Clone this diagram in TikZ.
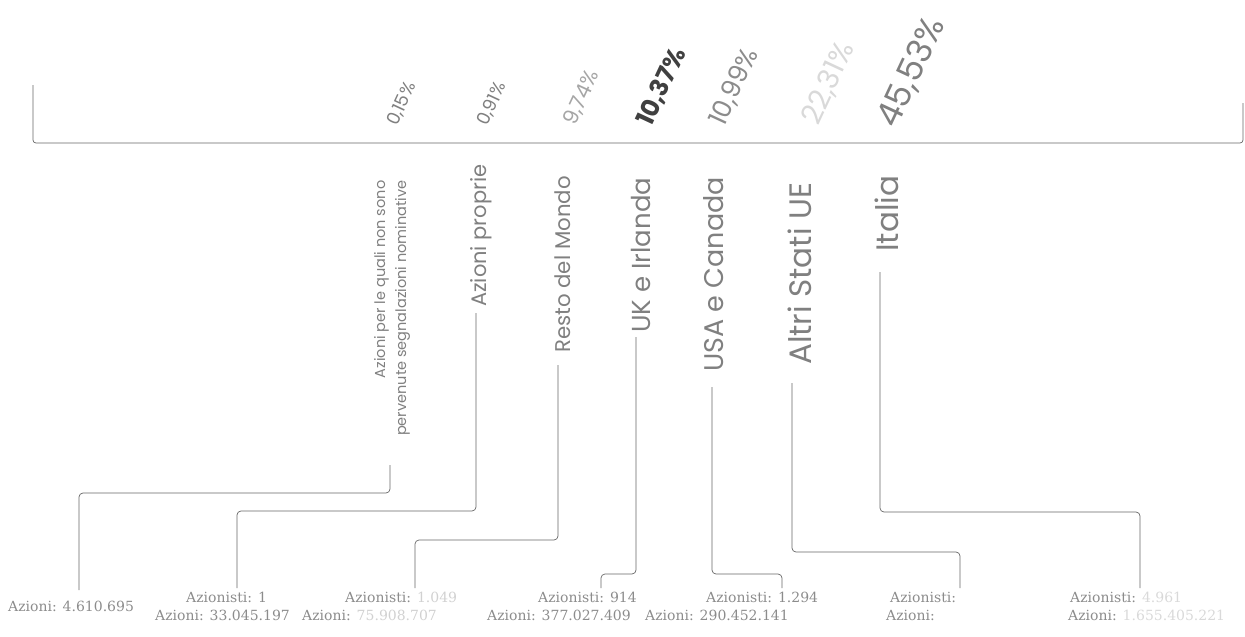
\documentclass[tikz,border=0pt]{standalone}
\usepackage{fontspec}
\newfontfamily\labfont{Poppins}
\newfontfamily\botfont{DejaVu Serif}
\begin{document}
\begin{tikzpicture}[x=1pt,y=-1pt,
  conn/.style={draw=black!60, line width=0.7pt, rounded corners=4pt},
  lab/.style={rotate=90, anchor=base west, inner sep=0pt, text=black!50, font=\labfont},
  pct/.style={rotate=65, anchor=base west, inner sep=0pt, text=black!50, font=\labfont},
  bot/.style={anchor=base west, inner sep=0pt, text=black!45, font=\botfont\fontsize{14}{16}\selectfont}]
\useasboundingbox (0,0) rectangle (1245,637);
% bracket
\coordinate (br1) at (33,85);
\coordinate (br2) at (33,143);
\coordinate (br3) at (1243,143);
\coordinate (br4) at (1243,103);
\draw[conn, rounded corners=3pt] (br1) -- (br2) -- (br3) -- (br4);
% percentages
\node[pct, font=\labfont\fontsize{18}{20}\selectfont] (p1) at (397,127) {0,15\%};
\node[pct, font=\labfont\fontsize{18}{20}\selectfont] (p2) at (487,127) {0,91\%};
\node[pct, text=black!35, font=\labfont\fontsize{21}{23}\selectfont] (p3) at (575,127) {9,74\%};
\node[pct, text=black!75, font=\labfont\bfseries\fontsize{25}{27}\selectfont] (p4) at (651,128) {10,37\%};
\node[pct, text=black!45, font=\labfont\fontsize{26}{28}\selectfont] (p5) at (724,128) {10,99\%};
\node[pct, text=black!15, font=\labfont\fontsize{29}{31}\selectfont] (p6) at (818,127) {22,31\%};
\node[pct, text=black!50, font=\labfont\fontsize{34}{36}\selectfont] (p7) at (896,130) {45,53\%};
% labels
\node[lab, align=right, font=\labfont\fontsize{14.5}{21}\selectfont] (l1) at (406,436)
  {Azioni per le quali non sono\\pervenute segnalazioni nominative};
\node[lab, font=\labfont\fontsize{21}{23}\selectfont] (l2) at (486,307) {Azioni proprie};
\node[lab, font=\labfont\fontsize{21.3}{23}\selectfont] (l3) at (570,353) {Resto del Mondo};
\node[lab, font=\labfont\fontsize{26}{28}\selectfont] (l4) at (650,333) {UK e Irlanda};
\node[lab, font=\labfont\fontsize{27}{29}\selectfont] (l5) at (723,372) {USA e Canada};
\node[lab, font=\labfont\fontsize{31}{33}\selectfont] (l6) at (811,365) {Altri Stati UE};
\node[lab, font=\labfont\fontsize{31}{33}\selectfont] (l7) at (898,252) {Italia};
% bottom texts
\node[bot] (b1) at (8,611) {Azioni: 4.610.695};
\node[bot] (b2a) at (186,602) {Azionisti: 1};
\node[bot] (b2b) at (155,620) {Azioni: 33.045.197};
\node[bot] (b3a) at (345,602) {Azionisti: \textcolor{black!18}{1.049}};
\node[bot] (b3b) at (302,620) {Azioni: \textcolor{black!18}{75.908.707}};
\node[bot] (b4a) at (538,602) {Azionisti: 914};
\node[bot] (b4b) at (487,620) {Azioni: 377.027.409};
\node[bot] (b5a) at (706,602) {Azionisti: 1.294};
\node[bot] (b5b) at (645,620) {Azioni: 290.452.141};
\node[bot] (b6a) at (890,602) {Azionisti:};
\node[bot] (b6b) at (886,620) {Azioni:};
\node[bot] (b7a) at (1070,602) {Azionisti: \textcolor{black!15}{4.961}};
\node[bot] (b7b) at (1068,620) {Azioni: \textcolor{black!15}{1.655.405.221}};
% connector coordinates
\coordinate (s1) at (390,465); \coordinate (k1) at (79,493);  \coordinate (e1) at (79,590);
\coordinate (s2) at (476,313); \coordinate (k2) at (237,511); \coordinate (e2) at (237,588);
\coordinate (s3) at (558,365); \coordinate (k3) at (415,540); \coordinate (e3) at (415,588);
\coordinate (s4) at (636,337); \coordinate (k4) at (601,574); \coordinate (e4) at (601,588);
\coordinate (s5) at (712,387); \coordinate (k5) at (782,574); \coordinate (e5) at (782,588);
\coordinate (s6) at (792,383); \coordinate (k6) at (960,552); \coordinate (e6) at (960,588);
\coordinate (s7) at (880,272); \coordinate (k7) at (1140,512); \coordinate (e7) at (1140,588);
\foreach \i in {1,...,7} {\draw[conn] (s\i) |- (k\i) -- (e\i);}
\end{tikzpicture}
\end{document}
